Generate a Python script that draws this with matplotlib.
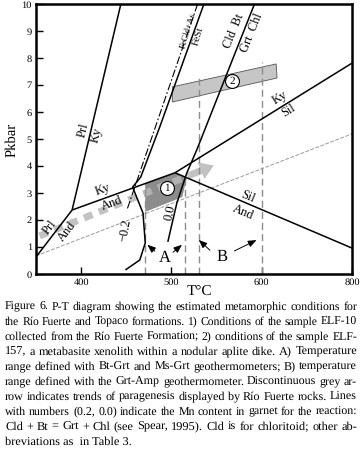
import matplotlib
matplotlib.use('Agg')
import matplotlib.pyplot as plt

plt.rcParams['font.family'] = ['Liberation Serif', 'DejaVu Serif']
plt.rcParams['text.hinting'] = 'no_hinting'

# ─── Reaction curves (T in °C, P in kbar) ────────────────────────────────────
prl_and_T = [350, 390];  prl_and_P = [0.63, 2.37]
prl_ky_T  = [390, 444];  prl_ky_P  = [2.37, 10.0]
ky_and_T  = [390, 504];  ky_and_P  = [2.37, 3.75]
ky_sil_T  = [504, 700];  ky_sil_P  = [3.75, 7.81]
and_sil_T = [504, 700];  and_sil_P = [3.75, 0.96]

fecld_T = [529, 451];    fecld_P = [10.0, 2.4]            # FeCld + As (dash-dot)
fest_T  = [536, 487, 466, 457, 468.5, 471, 465, 449]    # FeSt / Mn -0.2
fest_P  = [10.0, 5.44, 3.59, 3.22, 2.26, 1.15, 0.52, 0.15]
cld_T   = [592, 528, 517, 506, 496]                     # Cld Bt / Grt Chl
cld_P   = [10.0, 4.59, 3.74, 2.63, 1.19]

geo_T = [350, 700];  geo_P = [0.67, 5.19]               # thin grey line

# ─── Fields ──────────────────────────────────────────────────────────────────
f1_T = [471, 504, 517, 512, 471];  f1_P = [3.35, 3.75, 3.56, 2.85, 2.30]
f2_T = [501, 616, 617, 501];       f2_P = [6.93, 7.78, 7.26, 6.37]
c1 = (495, 3.19)
c2 = (567, 7.15)

arrow_T = [354, 547];  arrow_P = [1.41, 4.02]

# temperature ranges
A_T = [471, 515];  A_top = [3.35, 3.56]
B_T = [530, 600];  B_top = [7.3, 7.85]

# labels: text, T, P, rotation, size
LABELS = [
    ('Prl', 402, 5.33, 76, 9), ('Ky', 417.5, 5.15, 76, 9),
    ('Ky', 424, 3.11, 20, 9), ('And', 434, 2.63, 20, 9),
    ('Prl', 365.5, 1.74, 52, 9), ('And', 384, 1.56, 52, 9),
    ('Ky', 620, 6.52, 32, 9), ('Sil', 629, 6.07, 32, 9),
    ('Sil', 585, 2.85, -23, 9), ('And', 579, 2.30, -23, 9),
    ('FeCld+As', 518, 9.0, 73, 6.5), ('FeSt', 529, 8.8, 73, 7.5),
    ('Cld  Bt', 569, 9.0, 68, 9), ('Grt  Chl', 589, 8.93, 68, 9),
    ('\u22120.2', 448.6, 1.63, 80, 9), ('0.0', 498, 2.26, 78, 9),
]

xticks = [400, 500, 600, 700]
xticklabels = ['400', '500', '600', '800']
yticks = list(range(0, 11))

caption = [
    'Figure 6. P-T diagram showing the estimated metamorphic conditions for',
    'the R\u00edo Fuerte and Topaco formations. 1) Conditions of the sample ELF-10',
    'collected from the R\u00edo Fuerte Formation; 2) conditions of the sample ELF-',
    '157, a metabasite xenolith within a nodular aplite dike. A) Temperature',
    'range defined with Bt-Grt and Ms-Grt geothermometers; B) temperature',
    'range defined with the Grt-Amp geothermometer. Discontinuous grey ar-',
    'row indicates trends of paragenesis displayed by R\u00edo Fuerte rocks. Lines',
    'with numbers (0.2, 0.0) indicate the Mn content in garnet for the reaction:',
    'Cld + Bt = Grt + Chl (see Spear, 1995). Cld is for chloritoid; other ab-',
    'breviations as  in Table 3.',
]

W, H = 361, 449
fig = plt.figure(figsize=(W / 100, H / 100), dpi=100)
ax = fig.add_axes([36 / W, 1 - 274 / H, 316 / W, 270 / H])

# fields
ax.fill(f1_T, f1_P, color='#8c8c8c', lw=0, zorder=1)
ax.fill(f2_T, f2_P, facecolor='#c6c6c6', edgecolor='#555555', lw=0.6, zorder=1)

# grey dashed arrow
fr = 0.86
shaft_end = (arrow_T[0] + fr * (arrow_T[1] - arrow_T[0]),
             arrow_P[0] + fr * (arrow_P[1] - arrow_P[0]))
ax.plot([arrow_T[0], shaft_end[0]], [arrow_P[0], shaft_end[1]],
        color='#b8b8b8', alpha=0.85, lw=5, dashes=(1.3, 1.0),
        dash_capstyle='butt', zorder=2)
ax.annotate('', xy=(arrow_T[1], arrow_P[1]), xytext=shaft_end,
            arrowprops=dict(arrowstyle='simple,head_length=1.0,head_width=1.3,tail_width=0.5',
                            mutation_scale=10, color='#b8b8b8', alpha=0.85, lw=0,
                            shrinkA=0, shrinkB=0), zorder=2)

# thin grey line
ax.plot(geo_T, geo_P, color='#9a9a9a', lw=0.7, dashes=(4, 1.5), zorder=2)

# temperature range lines
for t, top in zip(A_T + B_T, A_top + B_top):
    ax.plot([t, t], [0, top], color='#8c8c8c', lw=1.0, dashes=(5, 3), zorder=2)

# reactions
for tt, pp in [(prl_and_T, prl_and_P), (prl_ky_T, prl_ky_P), (ky_and_T, ky_and_P),
               (ky_sil_T, ky_sil_P), (and_sil_T, and_sil_P), (fest_T, fest_P),
               (cld_T, cld_P)]:
    ax.plot(tt, pp, color='black', lw=1.1, zorder=3, solid_capstyle='butt')
ax.plot(fecld_T, fecld_P, color='black', lw=0.8, dashes=(7, 2, 1.5, 2), zorder=3)

# numbered circles
for (t, p), s in [(c1, '1'), (c2, '2')]:
    ax.plot(t, p, 'o', ms=10, mfc='white', mec='black', mew=0.8, zorder=4)
    ax.text(t, p, s, ha='center', va='center', fontsize=8, zorder=5)

for s, t, p, r, fs in LABELS:
    ax.text(t, p, s, rotation=r, ha='center', va='center', fontsize=fs,
            rotation_mode='anchor', zorder=5)

# A / B annotations
ax.text(493, 0.59, 'A', fontsize=12, ha='center', va='center')
ax.text(556, 0.63, 'B', fontsize=12, ha='center', va='center')
aprops = dict(arrowstyle='-|>,head_length=0.5,head_width=0.2', color='black', lw=0.7)
ax.annotate('', xy=(471, 1.15), xytext=(484, 0.78), arrowprops=aprops)
ax.annotate('', xy=(514, 1.15), xytext=(499.5, 0.74), arrowprops=aprops)
ax.annotate('', xy=(528, 1.33), xytext=(545, 0.81), arrowprops=aprops)
ax.annotate('', xy=(597, 1.30), xytext=(567, 0.81), arrowprops=aprops)

ax.set_xlim(350, 700)
ax.set_ylim(0, 10)
ax.set_xticks(xticks)
ax.set_xticklabels(xticklabels)
ax.set_yticks(yticks)
ax.tick_params(direction='in', length=5, width=1, labelsize=7.5, pad=3)
for sp in ax.spines.values():
    sp.set_linewidth(1.8)

fig.text(12 / W, 1 - 140 / H, 'Pkbar', rotation=90, ha='center', va='center', fontsize=10.5)
fig.text(200 / W, 1 - 292 / H, 'T\u00b0C', ha='center', va='center', fontsize=11)

# justified caption, word by word
fig.canvas.draw()
rend = fig.canvas.get_renderer()
left_px, right_px = 5, 357
target = right_px - left_px
cap_fs = 8.9

def width_of(s, fs):
    t = fig.text(0, 0, s, fontsize=fs)
    w = t.get_window_extent(rend).width
    t.remove()
    return w

for i, line in enumerate(caption):
    y = 1 - (309.5 + 15.05 * i) / H
    fs = cap_fs
    nat = width_of(line, fs)
    if nat > target:
        fs = fs * target / nat
    if i == len(caption) - 1:
        fig.text(left_px / W, y, line, fontsize=fs, va='baseline', ha='left')
        continue
    words = line.split(' ')
    widths = [width_of(w, fs) for w in words]
    gap = (target - sum(widths)) / (len(words) - 1)
    x = left_px
    for w, wd in zip(words, widths):
        fig.text(x / W, y, w, fontsize=fs, va='baseline', ha='left')
        x += wd + gap

fig.savefig('out.png', dpi=100)
